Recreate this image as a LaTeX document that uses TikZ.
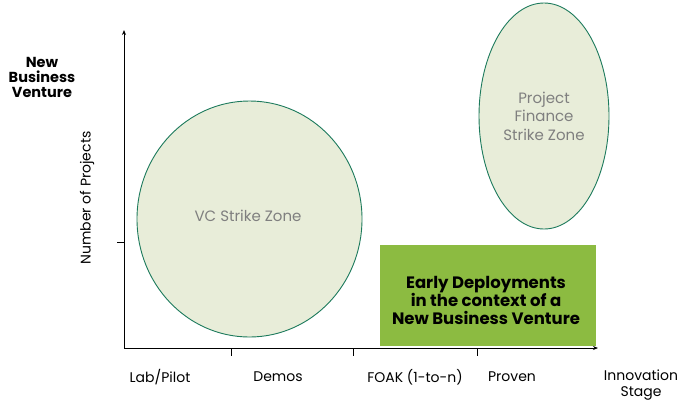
\documentclass[tikz,border=0pt]{standalone}
\usepackage{fontspec}
\setmainfont{Poppins}
\usetikzlibrary{arrows.meta,shapes.geometric}
\definecolor{zonefill}{HTML}{E8EDD9}
\definecolor{zoneline}{HTML}{1C7A5C}
\definecolor{boxgreen}{HTML}{8CBB41}
\definecolor{zonetext}{HTML}{7F7F7F}
\begin{document}
\begin{tikzpicture}[x=1pt,y=-1pt,
  axis/.style={line width=0.9pt,-{Stealth[length=5pt,width=4pt]}},
  tick/.style={line width=0.8pt},
  zone/.style={draw=zoneline,line width=0.9pt,fill=zonefill},
  zonelabel/.style={text=zonetext,font=\fontsize{15}{18.5}\selectfont,align=center},
  axlabel/.style={font=\fontsize{14}{15.5}\selectfont,align=center},
  boxlabel/.style={font=\bfseries\fontsize{16.5}{18}\selectfont,align=center}
]
\useasboundingbox (0,0) rectangle (679,400);
% zones
\node[zone,ellipse,minimum width=225pt,minimum height=236pt,inner sep=0pt] (vc) at (249.5,219) {};
\node[zonelabel] (vct) at (248,216) {VC Strike Zone};
\node[zone,ellipse,minimum width=130pt,minimum height=226pt,inner sep=0pt] (pf) at (544,116) {};
\node[zonelabel] (pft) at (544,116) {Project\\Finance\\Strike Zone};
% box
\node[fill=boxgreen,minimum width=216pt,minimum height=101pt,inner sep=0pt] (box) at (488,295.5) {};
\node[boxlabel] (boxt) at (486,300) {Early Deployments\\in the context of a\\New Business Venture};
% axes
\coordinate (o) at (124,348);
\coordinate (ytop) at (124,30);
\coordinate (xend) at (598,348);
\draw[axis] (o) -- (ytop);
\draw[axis] (o) -- (xend);
% ticks
\coordinate (yt) at (124,242);
\coordinate (yt2) at (117,242);
\draw[tick] (yt) -- (yt2);
\foreach \n/\xx in {a/231,b/353,c/477}{
  \coordinate (t\n1) at (\xx,348);
  \coordinate (t\n2) at (\xx,356);
  \draw[tick] (t\n1) -- (t\n2);
}
% labels
\node[font=\bfseries\fontsize{14.5}{15}\selectfont,align=center] (nbv) at (42,77) {New\\Business\\Venture};
\node[axlabel,rotate=90] (nop) at (87,198) {Number of Projects};
\node[axlabel] (l1) at (160,377) {Lab/Pilot};
\node[axlabel] (l2) at (278,377) {Demos};
\node[axlabel] (l3) at (415,377) {FOAK (1-to-n)};
\node[axlabel] (l4) at (512,377) {Proven};
\node[axlabel] (l5) at (641,385) {Innovation\\Stage};
\end{tikzpicture}
\end{document}
